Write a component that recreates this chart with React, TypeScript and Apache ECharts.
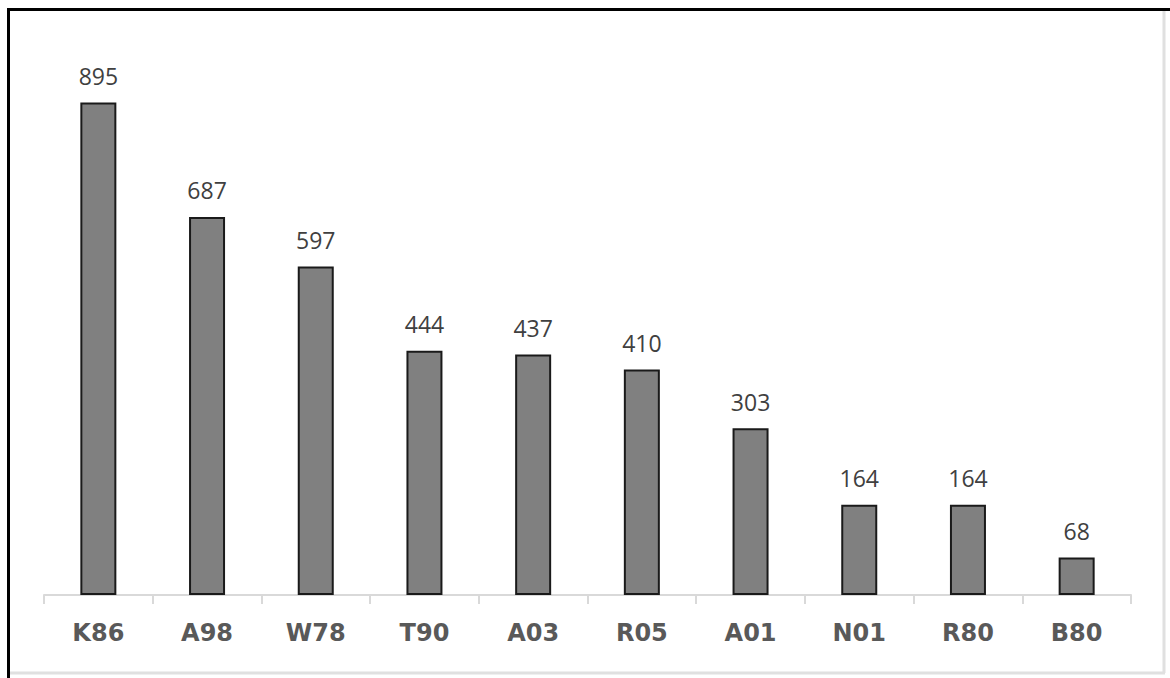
import React, { useEffect, useRef } from "react";
import * as echarts from "echarts";

const categories = ["K86", "A98", "W78", "T90", "A03", "R05", "A01", "N01", "R80", "B80"];
const values = [895, 687, 597, 444, 437, 410, 303, 164, 164, 68];

export default function App() {
  const ref = useRef<HTMLDivElement>(null);
  useEffect(() => {
    if (!ref.current) return;
    const chart = echarts.init(ref.current, undefined, { renderer: "svg" });
    chart.setOption({
      animation: false,
      backgroundColor: "#ffffff",
      grid: { left: 44, right: 39, top: 42, bottom: 83, containLabel: false },
      xAxis: {
        type: "category",
        data: categories,
        axisLine: { show: true, lineStyle: { color: "#d9d9d9", width: 2 } },
        axisTick: { show: true, length: 9, lineStyle: { color: "#d9d9d9", width: 2 } },
        axisLabel: {
          margin: 26,
          color: "#595959",
          fontFamily: "DejaVu Sans",
          fontWeight: 900,
          fontSize: 24,
        },
      },
      yAxis: {
        type: "value",
        min: 0,
        max: 1005,
        show: false,
        splitLine: { show: false },
      },
      series: [
        {
          type: "bar",
          data: values,
          barWidth: 36,
          itemStyle: { color: "#808080", borderColor: "#1a1a1a", borderWidth: 2 },
          label: {
            show: true,
            position: "top",
            distance: 15,
            color: "#404040",
            fontFamily: "Open Sans",
            fontSize: 23,
          },
        },
      ],
      graphic: [
        { type: "line", shape: { x1: 1164, y1: 11, x2: 1164, y2: 673 }, style: { stroke: "#e0e0e0", lineWidth: 3 } },
        { type: "line", shape: { x1: 10, y1: 673, x2: 1165, y2: 673 }, style: { stroke: "#e0e0e0", lineWidth: 3 } },
        { type: "line", shape: { x1: 8.5, y1: 8, x2: 8.5, y2: 678 }, style: { stroke: "#000000", lineWidth: 3 } },
        { type: "line", shape: { x1: 7, y1: 9.5, x2: 1170, y2: 9.5 }, style: { stroke: "#000000", lineWidth: 3 } },
      ],
    });
    return () => chart.dispose();
  }, []);
  return (
    <div
      ref={ref}
      style={{ position: "absolute", left: 0, top: 0, width: 1170, height: 678 }}
    />
  );
}
